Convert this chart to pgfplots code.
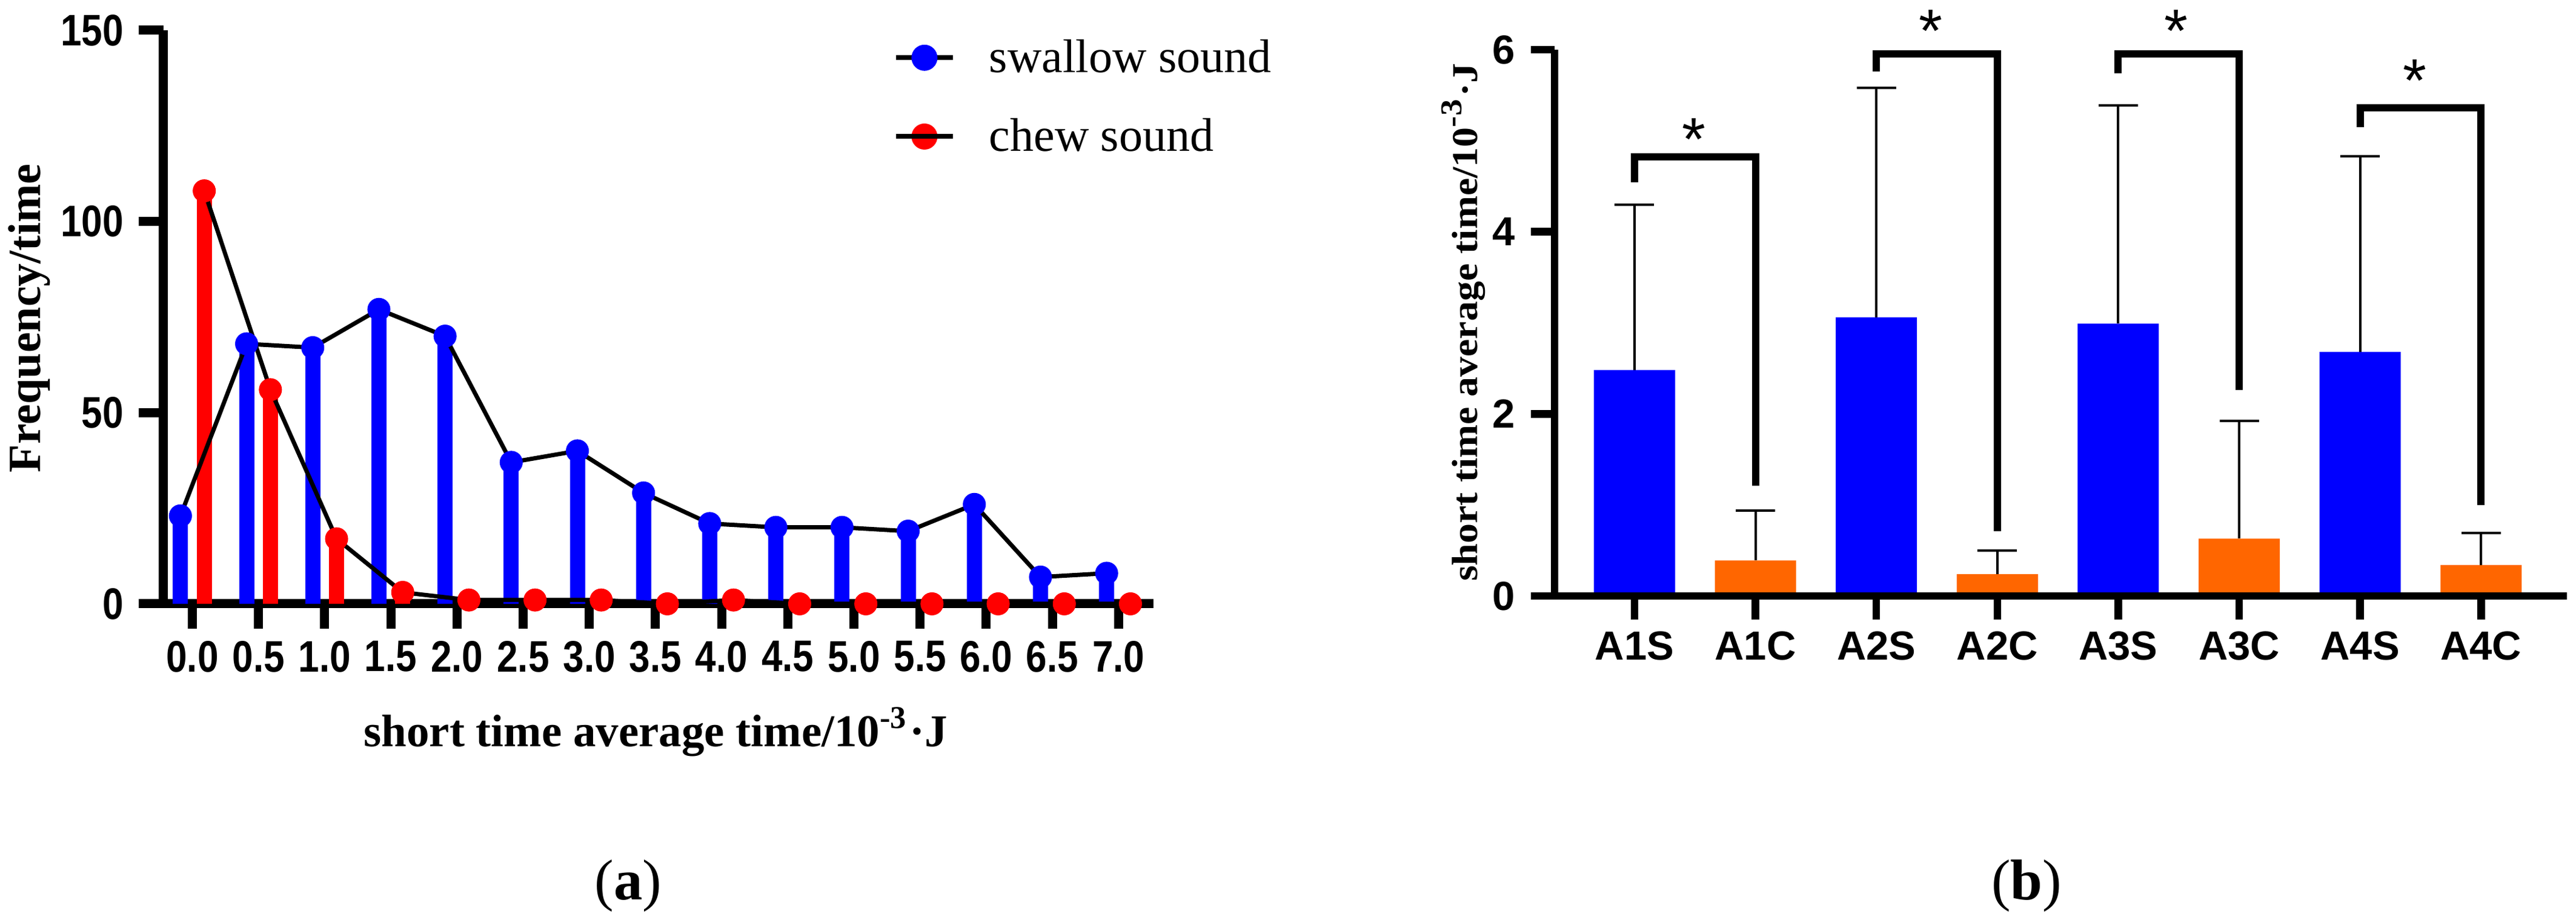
\documentclass[border=0pt]{standalone}
\usepackage{fontspec}
\setmainfont{Liberation Serif}
\setsansfont{Liberation Sans}
\newfontfamily\condsans{Liberation Sans}[FakeStretch=0.85]
\newfontfamily\wideserif{Liberation Serif}[FakeStretch=1.1]
\usepackage{pgfplots}
\pgfplotsset{compat=1.18}
\definecolor{cblue}{RGB}{0,0,255}
\definecolor{cred}{RGB}{255,0,0}
\definecolor{corange}{RGB}{255,102,0}

\begin{document}
\begin{tikzpicture}
\useasboundingbox (0,0) rectangle (425.2pt,151.9pt);
% ---------------- panel (a)
\begin{axis}[
  at={(27.0pt,52.2pt)}, anchor=south west,
  scale only axis, width=163.4pt, height=94.7pt,
  xmin=-0.2175, xmax=7.264, ymin=0, ymax=150,
  axis x line*=bottom, axis y line*=left,
  axis line style={line width=1.5pt, black},
  x axis line style={shorten <=-4pt},
  tick align=outside, major tick length=4.1pt,
  tick style={line width=1.5pt, black},
  xtick={0,0.5,...,7},
  xticklabels={0.0,0.5,1.0,1.5,2.0,2.5,3.0,3.5,4.0,4.5,5.0,5.5,6.0,6.5,7.0},
  ytick={0,50,100,150},
  /pgf/number format/assume math mode=true,
  tick label style={font=\condsans\bfseries\fontsize{7.3}{8}\selectfont},
  yticklabel style={xshift=1pt},
  xticklabel style={yshift=1.5pt},
  xlabel={\bfseries short time average time/10\textsuperscript{-3}·J},
  xlabel style={at={(axis description cs:0.497,-0.2492)}, anchor=base, font=\rmfamily\fontsize{7.5}{9}\selectfont},
  ylabel={\bfseries Frequency/time},
  ylabel style={at={(axis description cs:-0.1248,0.498)}, anchor=base, font=\rmfamily\fontsize{7.6}{9}\selectfont},
  clip=false,
  legend style={at={(axis description cs:0.7362,0.986)}, anchor=north west, draw=none, fill=none,
    inner xsep=0pt, inner ysep=0pt, cells={anchor=base west}, nodes={inner sep=0pt, text depth=0pt},
    column sep=5.6pt, row sep=7.6pt, font=\rmfamily\fontsize{7.8}{9}\selectfont},
]
\addplot[ycomb, mark=none, cblue, line width=2.5pt, forget plot] coordinates {
 (-0.09,23) (0.41,68) (0.91,67) (1.41,77) (1.91,70) (2.41,37) (2.91,40) (3.41,29)
 (3.91,21) (4.41,20) (4.91,20) (5.41,19) (5.91,26) (6.41,7) (6.91,8)};
\addplot[ycomb, mark=none, cred, line width=2.5pt, forget plot] coordinates {
 (0.09,108) (0.59,56) (1.09,17) (1.59,3) (2.09,1) (2.59,1) (3.09,1) (3.59,0)
 (4.09,1) (4.59,0) (5.09,0) (5.59,0) (6.09,0) (6.59,0) (7.09,0)};
\addplot[black, line width=0.7pt, mark=*, mark size=1.85pt,
  mark options={solid, fill=cblue, draw=cblue, line width=0.1pt},
  legend image code/.code={\draw[black, line width=0.8pt] (0pt,2.4pt) -- (9.4pt,2.4pt);
    \fill[cblue] (4.7pt,2.4pt) circle (1.8pt);}] coordinates {
 (-0.09,23) (0.41,68) (0.91,67) (1.41,77) (1.91,70) (2.41,37) (2.91,40) (3.41,29)
 (3.91,21) (4.41,20) (4.91,20) (5.41,19) (5.91,26) (6.41,7) (6.91,8)};
\addlegendentry{swallow sound}
\addplot[black, line width=0.7pt, mark=*, mark size=1.85pt,
  mark options={solid, fill=cred, draw=cred, line width=0.1pt},
  legend image code/.code={\fill[cred] (4.7pt,2.4pt) circle (1.8pt);
    \draw[black, line width=0.8pt] (0pt,2.4pt) -- (9.4pt,2.4pt);}] coordinates {
 (0.09,108) (0.59,56) (1.09,17) (1.59,3) (2.09,1) (2.59,1) (3.09,1) (3.59,0)
 (4.09,1) (4.59,0) (5.09,0) (5.59,0) (6.09,0) (6.59,0) (7.09,0)};
\addlegendentry{chew sound}
\end{axis}

% ---------------- panel (b)
\begin{axis}[
  at={(256.6pt,53.5pt)}, anchor=south west,
  scale only axis, width=167.1pt, height=90.2pt,
  xmin=-0.661, xmax=7.710, ymin=0, ymax=6,
  axis x line*=bottom, axis y line*=left,
  axis line style={line width=1.25pt, black},
  x axis line style={shorten <=-3.7pt},
  tick align=outside, major tick length=3.9pt,
  tick style={line width=1.25pt, black},
  xtick={0,1,2,3,4,5,6,7},
  xticklabels={A1S,A1C,A2S,A2C,A3S,A3C,A4S,A4C},
  ytick={0,2,4,6},
  /pgf/number format/assume math mode=true,
  tick label style={font=\sffamily\bfseries\fontsize{6.7}{8}\selectfont},
  yticklabel style={xshift=0.9pt},
  xticklabel style={yshift=1.6pt},
  ylabel={\bfseries short time average time/10\textsuperscript{-3}·J},
  ylabel style={at={(axis description cs:-0.0766,0.501)}, anchor=base, font=\wideserif\fontsize{6}{7}\selectfont},
  axis on top, clip=false,
]
\addplot[ybar, bar width=13.4pt, bar shift=0pt, fill=cblue, draw=none,
  error bars/.cd, y dir=plus, y explicit, error mark=|,
  error bar style={draw=black, line width=0.4pt},
  error mark options={draw=black, line width=0.4pt, mark size=3.25pt}]
  coordinates {(0,2.48) +- (0,1.82) (2,3.06) +- (0,2.52) (4,2.99) +- (0,2.40) (6,2.68) +- (0,2.15)};
\addplot[ybar, bar width=13.4pt, bar shift=0pt, fill=corange, draw=none,
  error bars/.cd, y dir=plus, y explicit, error mark=|,
  error bar style={draw=black, line width=0.4pt},
  error mark options={draw=black, line width=0.4pt, mark size=3.25pt}]
  coordinates {(1,0.39) +- (0,0.55) (3,0.24) +- (0,0.26) (5,0.63) +- (0,1.29) (7,0.34) +- (0,0.35)};
% significance brackets
\addplot[black, line width=1.2pt, line join=miter, mark=none, forget plot] coordinates {(0,4.54) (0,4.82) (1,4.82) (1,1.21)};
\addplot[black, line width=1.2pt, line join=miter, mark=none, forget plot] coordinates {(2,5.76) (2,5.95) (3,5.95) (3,0.71)};
\addplot[black, line width=1.2pt, line join=miter, mark=none, forget plot] coordinates {(4,5.74) (4,5.95) (5,5.95) (5,2.26)};
\addplot[black, line width=1.2pt, line join=miter, mark=none, forget plot] coordinates {(6,5.15) (6,5.36) (7,5.36) (7,1.00)};
\node[anchor=north, inner sep=0pt, font=\sffamily\fontsize{10}{12}\selectfont] at (axis cs:0.49,5.26) {*};
\node[anchor=north, inner sep=0pt, font=\sffamily\fontsize{10}{12}\selectfont] at (axis cs:2.45,6.45) {*};
\node[anchor=north, inner sep=0pt, font=\sffamily\fontsize{10}{12}\selectfont] at (axis cs:4.48,6.45) {*};
\node[anchor=north, inner sep=0pt, font=\sffamily\fontsize{10}{12}\selectfont] at (axis cs:6.45,5.90) {*};
\end{axis}

\node[font=\rmfamily\fontsize{9.5}{11}\selectfont] at (103.7pt,5.6pt) {(\textbf{a})};
\node[font=\rmfamily\fontsize{9.5}{11}\selectfont] at (334.5pt,5.6pt) {(\textbf{b})};
\end{tikzpicture}
\end{document}
